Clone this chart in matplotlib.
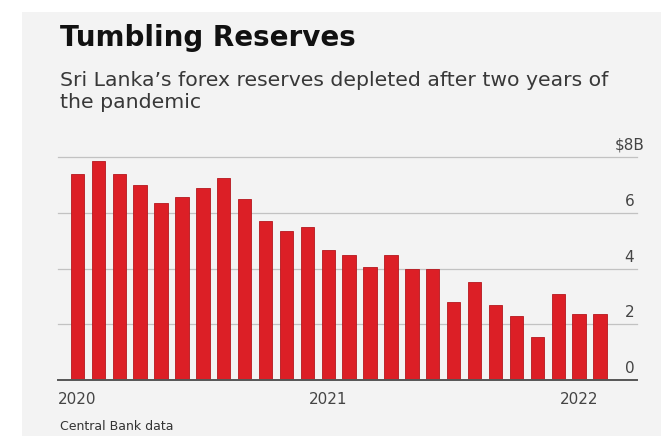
import matplotlib
matplotlib.use("Agg")
import matplotlib.pyplot as plt
from matplotlib.patches import Rectangle
from matplotlib.transforms import blended_transform_factory, offset_copy

months = list(range(26))  # Jan 2020 .. Feb 2022
reserves = [7.4, 7.85, 7.4, 7.0, 6.35, 6.55, 6.9, 7.25, 6.5, 5.7, 5.35, 5.5,
            4.65, 4.5, 4.05, 4.5, 4.0, 4.0, 2.8, 3.5, 2.7, 2.3, 1.55, 3.1,
            2.35, 2.35]
year_ticks = [0, 12, 24]
year_labels = ["2020", "2021", "2022"]
y_ticks = [0, 2, 4, 6, 8]
y_labels = ["0", "2", "4", "6", "$8B"]

W, H = 661, 437
fig = plt.figure(figsize=(W / 100, H / 100), dpi=100)
fig.patch.set_facecolor("white")
fig.patches.append(Rectangle((22 / W, 1 / H), 1, (H - 13) / H,
                             transform=fig.transFigure, facecolor="#f3f3f3",
                             edgecolor="none", zorder=-5))

font = "DejaVu Sans"
fig.text(60 / W, 1 - 38 / H, "Tumbling Reserves", fontsize=20, fontweight="bold",
         family=font, color="#111111", va="center", ha="left")
fig.text(60 / W, 1 - 80 / H, "Sri Lanka\u2019s forex reserves depleted after two years of",
         fontsize=14.7, family=font, color="#383838", va="center", ha="left")
fig.text(60 / W, 1 - 103 / H, "the pandemic",
         fontsize=14.7, family=font, color="#383838", va="center", ha="left")
fig.text(60 / W, 1 - 427 / H, "Central Bank data", fontsize=9, family=font,
         color="#333333", va="center", ha="left")

ax = fig.add_axes([58 / W, (H - 380) / H, 579 / W, 223 / H])
ax.set_zorder(2)
ax.set_facecolor("none")
ax.bar(months, reserves, width=0.64, color="#dc1f26", edgecolor="#b5171d",
       linewidth=0.6, zorder=3)
ax.set_xlim(-0.93, 26.77)
ax.set_ylim(0, 8)
for t in y_ticks:
    if t == 0:
        ax.axhline(t, color="#555555", lw=1.4, zorder=4, clip_on=False)
    else:
        ax.axhline(t, color="#c2c2c2", lw=0.9, zorder=1, clip_on=False)

trans = blended_transform_factory(ax.transAxes, ax.transData)
trans_up = offset_copy(trans, fig=fig, x=0, y=4, units="dots")
for t, lab in zip(y_ticks, y_labels):
    ax.text(0.987, t, lab, transform=trans_up, ha="center", va="bottom",
            fontsize=11, family=font, color="#444444")

ax.set_xticks(year_ticks)
ax.set_xticklabels(year_labels, fontsize=11, family=font, color="#444444")
ax.tick_params(axis="x", length=0, pad=9)
ax.set_yticks([])
for s in ax.spines.values():
    s.set_visible(False)

fig.savefig("out.png", dpi=100, facecolor=fig.get_facecolor())
